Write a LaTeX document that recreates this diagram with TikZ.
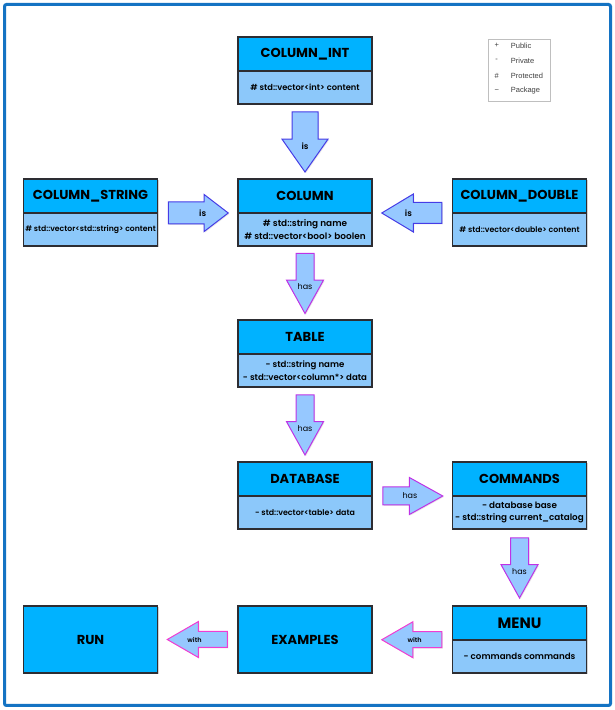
\documentclass[tikz,border=0pt]{standalone}
\usepackage{fontspec}
\setmainfont{Poppins}
\newfontfamily\semifont{Poppins SemiBold}
\newfontfamily\legendfont{Liberation Sans}
\usetikzlibrary{shapes.arrows,positioning,calc,shadows}

\definecolor{titleblue}{RGB}{0,178,255}
\definecolor{attrblue}{RGB}{140,200,250}
\definecolor{arrowfill}{RGB}{150,200,255}
\definecolor{isline}{RGB}{70,60,230}
\definecolor{hasline}{RGB}{190,50,230}
\definecolor{withline}{RGB}{240,60,210}
\definecolor{frameblue}{RGB}{20,115,195}
\definecolor{boxline}{RGB}{45,45,50}

\newcommand{\attrsize}[1]{\semifont\fontsize{#1}{12.5}\selectfont}

\begin{document}
\begin{tikzpicture}[x=1pt, y=1pt,
    classtitle/.style={draw=boxline, fill=titleblue, line width=1.1pt, minimum width=134pt, minimum height=34pt, inner sep=0pt, outer sep=0pt, font=\bfseries\fontsize{13}{15}\selectfont, drop shadow={shadow xshift=1.2pt, shadow yshift=-1.5pt, opacity=0.35}},
    classattr/.style={classtitle, fill=attrblue, minimum height=33pt, align=center, font=\attrsize{8}},
    classonly/.style={classtitle, minimum height=67pt},
    blockarrow/.style={single arrow, fill=arrowfill, line width=1pt, minimum height=60pt, anchor=tail, drop shadow={shadow xshift=1pt, shadow yshift=-1pt, opacity=0.2}},
    isarrow/.style={blockarrow, draw=isline},
    hasarrow/.style={blockarrow, draw=hasline, inner sep=8.5pt, minimum width=36pt, single arrow head extend=9.5pt, single arrow tip angle=58},
    witharrow/.style={blockarrow, draw=withline, inner sep=7.5pt, minimum width=35pt, single arrow head extend=10pt, single arrow tip angle=60},
    islabel/.style={font=\semifont\fontsize{8.5}{9}\selectfont, inner sep=0pt},
    haslabel/.style={font=\fontsize{8}{9}\selectfont, inner sep=0pt},
    withlabel/.style={font=\semifont\fontsize{6.5}{7}\selectfont, inner sep=0pt},
    legendbox/.style={draw=black!25, fill=white, line width=0.6pt, minimum width=62pt, minimum height=62pt, drop shadow={shadow xshift=1pt, shadow yshift=-1pt, opacity=0.15}},
    legendtext/.style={font=\legendfont\fontsize{7.5}{8}\selectfont, text=black!75, inner sep=0pt}
]
    \useasboundingbox (0,0) rectangle (615,710);

    % Outer frame
    \draw[frameblue, line width=3pt, rounded corners=2pt] (4.5,4.5) rectangle (610.5,705.5);

    % Column classes
    \node[classtitle] (colint) at (305,656) {COLUMN\_INT};
    \node[classattr, below=0pt of colint, font=\attrsize{8.3}] (colint-attr) {\# std::vector<int> content};

    \node[classtitle] (colstring) at (90.5,514) {COLUMN\_STRING};
    \node[classattr, below=0pt of colstring, font=\attrsize{7.7}] (colstring-attr) {\# std::vector<std::string> content};

    \node[classtitle] (column) at (305,514) {COLUMN};
    \node[classattr, below=0pt of column, font=\attrsize{8.9}] (column-attr) {\# std::string name\\\# std::vector<bool> boolen};

    \node[classtitle] (coldouble) at (519.5,514) {COLUMN\_DOUBLE};
    \node[classattr, below=0pt of coldouble, font=\attrsize{7.8}] (coldouble-attr) {\# std::vector<double> content};

    % Table, database, commands
    \node[classtitle] (table) at (305,373) {TABLE};
    \node[classattr, below=0pt of table, font=\attrsize{8.6}] (table-attr) {- std::string name\\- std::vector<column*> data};

    \node[classtitle] (database) at (305,231) {DATABASE};
    \node[classattr, below=0pt of database, font=\attrsize{7.9}] (database-attr) {- std::vector<table> data};

    \node[classtitle] (commands) at (519.5,231) {COMMANDS};
    \node[classattr, below=0pt of commands, font=\attrsize{8.8}] (commands-attr) {- database base\\- std::string current\_catalog};

    % Bottom row
    \node[classtitle, font=\bfseries\fontsize{15}{17}\selectfont] (menu) at (519.5,87) {MENU};
    \node[classattr, below=0pt of menu, font=\attrsize{8.7}] (menu-attr) {- commands commands};
    \node[classonly] (examples) at (305,70.5) {EXAMPLES};
    \node[classonly] (run) at (90.5,70.5) {RUN};

    % Arrows
    \node[isarrow, shape border rotate=270, inner sep=12.5pt, minimum width=45pt, single arrow head extend=10pt, single arrow tip angle=70] (is-int) at ($(colint-attr.south)!.5!(column.north)+(0,30)$) {};
    \node[isarrow, inner sep=10.5pt, minimum width=36pt, single arrow head extend=7.5pt, single arrow tip angle=75] (is-string) at ($(colstring.south east)!.5!(column.south west)+(-30,0)$) {};
    \node[isarrow, shape border rotate=180, inner sep=10pt, minimum width=37pt, single arrow head extend=8.5pt, single arrow tip angle=62] (is-double) at ($(coldouble.south west)!.5!(column.south east)+(30,0)$) {};

    \node[hasarrow, shape border rotate=270] (has-column) at ($(column-attr.south)!.5!(table.north)+(0,30)$) {};
    \node[hasarrow, shape border rotate=270] (has-table) at ($(table-attr.south)!.5!(database.north)+(0,30)$) {};
    \node[hasarrow] (has-database) at ($(database.south east)!.5!(commands.south west)+(-30,0)$) {};
    \node[hasarrow, shape border rotate=270] (has-commands) at ($(commands-attr.south)!.5!(menu.north)+(0,30)$) {};

    \node[witharrow, shape border rotate=180] (with-menu) at ($(menu.south west)!.5!(examples.east)+(30,0)$) {};
    \node[witharrow, shape border rotate=180] (with-examples) at ($(examples.west)!.5!(run.east)+(30,0)$) {};

    % Arrow labels
    \foreach \a/\txt/\f/\lab in {is-int/is/.57/islabel, is-string/is/.57/islabel, is-double/is/.55/islabel,
        has-column/has/.55/haslabel, has-table/has/.55/haslabel, has-database/has/.45/haslabel, has-commands/has/.55/haslabel,
        with-menu/with/.45/withlabel, with-examples/with/.54/withlabel} {
        \node[\lab] (\a-label) at ($(\a.tail)!\f!(\a.tip)$) {\txt};
    }

    % Legend
    \node[legendbox] (legend) at (519,640) {};
    \foreach \sym/\name [count=\i] in {+/Public, -/Private, \#/Protected, \textasciitilde/Package} {
        \node[legendtext] (sym\i) at ($(legend.north west)+(9,-7-15*\i+15)$) {\sym};
        \node[legendtext, anchor=west] (name\i) at ($(legend.north west)+(23,-7-15*\i+15)$) {\name};
    }
\end{tikzpicture}
\end{document}
